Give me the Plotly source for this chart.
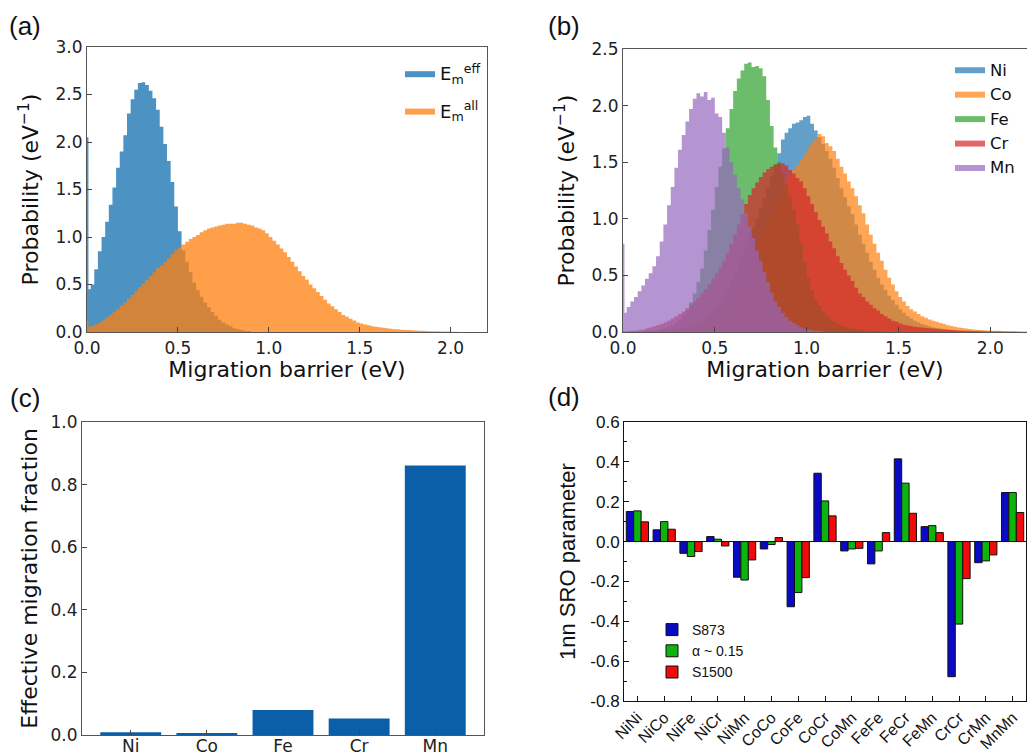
import plotly.graph_objects as go

# ---------------- data ----------------
BIN = 0.02          # histogram bin width (eV)
SPIKE_W = 0.008     # width of the first (edge) histogram bin

# (a) migration barrier histograms, bins start at 0 eV
eff_spike = 2.05
eff_vals = [0.45, 0.50, 0.66, 0.85, 1.00, 1.16, 1.34, 1.52, 1.73, 1.90,
            2.07, 2.30, 2.45, 2.55, 2.62, 2.63, 2.60, 2.54, 2.46, 2.34,
            2.16, 1.98, 1.80, 1.58, 1.32, 1.06, 0.86, 0.74, 0.63, 0.52,
            0.44, 0.37, 0.31, 0.26, 0.21, 0.17, 0.13, 0.10, 0.08, 0.06,
            0.04, 0.03, 0.02, 0.01, 0.01]
all_spike = 0.12
all_vals = [0.05, 0.06, 0.08, 0.10, 0.12, 0.15, 0.18, 0.21, 0.24,
            0.28, 0.31, 0.35, 0.39, 0.43, 0.47, 0.51, 0.55, 0.59, 0.63,
            0.67, 0.70, 0.74, 0.78, 0.82, 0.86, 0.89, 0.92, 0.95, 0.98,
            1.00, 1.02, 1.05, 1.07, 1.09, 1.10, 1.11, 1.12, 1.13, 1.14,
            1.14, 1.14, 1.15, 1.15, 1.14, 1.13, 1.12, 1.10, 1.09, 1.07,
            1.04, 1.00, 0.96, 0.92, 0.88, 0.84, 0.79, 0.74, 0.69, 0.64,
            0.59, 0.55, 0.50, 0.46, 0.42, 0.38, 0.34, 0.30, 0.27, 0.24,
            0.21, 0.18, 0.16, 0.14, 0.12, 0.10, 0.09, 0.08, 0.07, 0.06,
            0.055, 0.05, 0.045, 0.04, 0.035, 0.03, 0.028, 0.025, 0.022, 0.02,
            0.018, 0.016, 0.014, 0.012, 0.01, 0.009, 0.008, 0.007, 0.006, 0.005,
            0.004, 0.003, 0.002]

# (b) element-resolved histograms
ni_vals = [0, 0, 0, 0, 0, 0.002, 0.003, 0.004, 0.005, 0.007,
           0.009, 0.012, 0.015, 0.018, 0.02, 0.025, 0.03, 0.04, 0.05, 0.065,
           0.08, 0.10, 0.13, 0.16, 0.19, 0.23, 0.28, 0.33, 0.39, 0.46,
           0.53, 0.60, 0.68, 0.76, 0.84, 0.92, 1.00, 1.09, 1.18, 1.28,
           1.38, 1.48, 1.58, 1.70, 1.76, 1.80, 1.84, 1.85, 1.87, 1.90,
           1.91, 1.84, 1.78, 1.72, 1.66, 1.60, 1.53, 1.45, 1.36, 1.27,
           1.19, 1.11, 1.04, 0.95, 0.86, 0.78, 0.70, 0.62, 0.55, 0.48,
           0.42, 0.37, 0.32, 0.28, 0.24, 0.20, 0.17, 0.14, 0.12, 0.10,
           0.085, 0.07, 0.06, 0.05, 0.04, 0.035, 0.03, 0.025, 0.02, 0.018,
           0.015, 0.012, 0.01, 0.008, 0.006, 0.005, 0.004, 0.003]
co_vals = [0, 0, 0, 0, 0, 0, 0, 0, 0, 0.002,
           0.003, 0.004, 0.005, 0.007, 0.01, 0.013, 0.017, 0.022, 0.03, 0.04,
           0.05, 0.065, 0.08, 0.10, 0.12, 0.15, 0.18, 0.22, 0.26, 0.31,
           0.36, 0.42, 0.48, 0.55, 0.62, 0.69, 0.76, 0.84, 0.91, 0.98,
           1.05, 1.12, 1.19, 1.26, 1.32, 1.38, 1.43, 1.47, 1.52, 1.57,
           1.62, 1.67, 1.71, 1.75, 1.73, 1.67, 1.64, 1.60, 1.53, 1.46,
           1.40, 1.33, 1.27, 1.20, 1.12, 1.05, 0.95, 0.86, 0.78, 0.70,
           0.63, 0.55, 0.48, 0.42, 0.36, 0.31, 0.27, 0.23, 0.20, 0.18,
           0.16, 0.14, 0.125, 0.11, 0.10, 0.09, 0.08, 0.07, 0.06, 0.053,
           0.047, 0.04, 0.035, 0.03, 0.026, 0.022, 0.02, 0.018, 0.016, 0.014,
           0.012, 0.011, 0.01, 0.009, 0.008, 0.007, 0.006, 0.005, 0.005, 0.004]
fe_vals = [0, 0, 0, 0, 0, 0.002, 0.004, 0.006, 0.01, 0.015,
           0.022, 0.03, 0.045, 0.06, 0.08, 0.11, 0.15, 0.19, 0.26, 0.34,
           0.44, 0.56, 0.72, 0.90, 1.08, 1.28, 1.46, 1.62, 1.80, 1.97,
           2.13, 2.24, 2.31, 2.37, 2.38, 2.34, 2.35, 2.33, 2.26, 2.05,
           1.82, 1.63, 1.50, 1.40, 1.30, 1.20, 1.08, 0.95, 0.78, 0.62,
           0.48, 0.37, 0.29, 0.23, 0.18, 0.14, 0.11, 0.09, 0.07, 0.055,
           0.045, 0.035, 0.03, 0.025, 0.02, 0.015, 0.012, 0.01, 0.008, 0.006,
           0.005]
cr_vals = [0.005, 0.007, 0.01, 0.012, 0.015, 0.02, 0.03, 0.04, 0.05, 0.06,
           0.07, 0.085, 0.10, 0.12, 0.14, 0.16, 0.18, 0.21, 0.24, 0.27,
           0.30, 0.34, 0.38, 0.42, 0.47, 0.52, 0.57, 0.63, 0.70, 0.78,
           0.86, 0.95, 1.04, 1.13, 1.21, 1.27, 1.32, 1.37, 1.41, 1.44,
           1.46, 1.48, 1.49, 1.49, 1.47, 1.43, 1.40, 1.36, 1.33, 1.27,
           1.20, 1.13, 1.06, 0.99, 0.93, 0.87, 0.80, 0.74, 0.67, 0.61,
           0.55, 0.50, 0.45, 0.39, 0.34, 0.31, 0.27, 0.24, 0.21, 0.19,
           0.16, 0.14, 0.12, 0.10, 0.09, 0.075, 0.065, 0.058, 0.052, 0.047,
           0.043, 0.04, 0.036, 0.033, 0.03, 0.027, 0.024, 0.022, 0.02, 0.018,
           0.016, 0.014, 0.012, 0.011, 0.01, 0.009, 0.008, 0.007, 0.006, 0.005,
           0.005, 0.004, 0.004, 0.003, 0.003, 0.002, 0.002, 0.002, 0.001, 0.001]
mn_spike = 0.78
mn_vals = [0.17, 0.22, 0.27, 0.31, 0.36, 0.41, 0.47, 0.52, 0.58, 0.67,
           0.80, 0.95, 1.12, 1.28, 1.45, 1.61, 1.74, 1.86, 1.97, 2.06,
           2.11, 2.08, 2.12, 2.05, 2.07, 1.93, 1.90, 1.76, 1.63, 1.50,
           1.39, 1.27, 1.17, 1.05, 0.93, 0.83, 0.72, 0.63, 0.53, 0.44,
           0.35, 0.27, 0.22, 0.17, 0.13, 0.10, 0.08, 0.06, 0.04, 0.03,
           0.02, 0.015, 0.01, 0.01, 0.005]

# (c) effective migration fraction
elements = ["Ni", "Co", "Fe", "Cr", "Mn"]
eff_fraction = [0.0085, 0.004, 0.080, 0.053, 0.861]

# (d) 1nn SRO parameters
pairs = ["NiNi", "NiCo", "NiFe", "NiCr", "NiMn", "CoCo", "CoFe", "CoCr",
         "CoMn", "FeFe", "FeCr", "FeMn", "CrCr", "CrMn", "MnMn"]
sro_s873 = [0.151, 0.059, -0.059, 0.025, -0.179, -0.037, -0.327, 0.343,
            -0.047, -0.112, 0.415, 0.075, -0.678, -0.106, 0.246]
sro_alpha = [0.154, 0.100, -0.075, 0.012, -0.193, -0.015, -0.256, 0.204,
             -0.037, -0.047, 0.293, 0.080, -0.414, -0.097, 0.246]
sro_s1500 = [0.099, 0.062, -0.050, -0.022, -0.092, 0.020, -0.181, 0.129,
             -0.034, 0.045, 0.142, 0.045, -0.186, -0.067, 0.146]
sro_ticks = [0.6, 0.4, 0.2, 0.0, -0.2, -0.4, -0.6, -0.8]
sro_ticktext = ["0.6", "0.4", "0.2", "0.0", "-0.2", "-0.4", "-0.6", "-0.8"]

# ---------------- helpers ----------------
W, H = 1027, 755


def px_x(a, b):
    return [a / W, b / W]


def px_y(top, bottom):
    return [1 - bottom / H, 1 - top / H]


def step_xy(vals, spike=None):
    n = len(vals)
    if spike is None:
        xs = [BIN * i for i in range(n + 1)]
        ys = list(vals) + [vals[-1]]
    else:
        xs = [0.0, SPIKE_W] + [BIN * i for i in range(1, n + 1)]
        ys = [spike] + list(vals) + [vals[-1]]
    return xs, ys


def hist_trace(vals, spike, color, name, xa, ya, legend, group):
    xs, ys = step_xy(vals, spike)
    return go.Scatter(x=xs, y=ys, mode="lines", line=dict(width=0, shape="hv"),
                      fill="tozeroy", fillcolor=color, name=name,
                      xaxis=xa, yaxis=ya, legend=legend, legendgroup=group,
                      hoverinfo="skip")


fig = go.Figure()

# (a)
fig.add_trace(hist_trace(eff_vals, eff_spike, "rgba(31,119,180,0.8)",
                         "E<sub>m</sub><sup>eff</sup>", "x", "y", "legend", "a1"))
fig.add_trace(hist_trace(all_vals, all_spike, "rgba(255,127,14,0.75)",
                         "E<sub>m</sub><sup>all</sup>", "x", "y", "legend", "a2"))

# (b)
for vals, spike, col, nm in [
        (ni_vals, None, "rgba(31,119,180,0.7)", "Ni"),
        (co_vals, None, "rgba(255,127,14,0.7)", "Co"),
        (fe_vals, None, "rgba(44,160,44,0.7)", "Fe"),
        (cr_vals, None, "rgba(214,39,40,0.7)", "Cr"),
        (mn_vals, mn_spike, "rgba(148,103,189,0.7)", "Mn")]:
    fig.add_trace(hist_trace(vals, spike, col, nm, "x2", "y2", "legend2", "b" + nm))

# (c)
fig.add_trace(go.Bar(x=elements, y=eff_fraction, width=0.8,
                     marker=dict(color="#0b5fa9", line=dict(width=0)),
                     xaxis="x3", yaxis="y3", showlegend=False))

# (d)
for vals, col, nm in [(sro_s873, "#0a0ac6", "S873"),
                      (sro_alpha, "#0db40d", "α ~ 0.15"),
                      (sro_s1500, "#f00a0a", "S1500")]:
    fig.add_trace(go.Bar(x=pairs, y=vals, name=nm,
                         marker=dict(color=col, line=dict(color="#111", width=1)),
                         xaxis="x4", yaxis="y4", legend="legend3"))

# ---------------- layout ----------------
mpl_font = "DejaVu Sans"
arial = "Liberation Sans, Arial"
frame = "#555555"

common_mpl = dict(showline=True, mirror=True, linecolor=frame, linewidth=1.2,
                  ticks="inside", ticklen=5, tickwidth=1, tickcolor="#444",
                  showgrid=False, zeroline=False, automargin=False,
                  tickfont=dict(family=mpl_font, size=17, color="#222"))

fig.update_layout(
    width=W, height=H, autosize=False,
    margin=dict(l=0, r=0, t=0, b=0, pad=0, autoexpand=False),
    paper_bgcolor="white", plot_bgcolor="white",
    font=dict(family=mpl_font, color="#111"),
    barmode="group", bargap=0.17, bargroupgap=0,
    xaxis=dict(domain=px_x(87, 487), range=[0, 2.2], dtick=0.5, tickformat=".1f",
               anchor="y", ticklabelstandoff=0,
               title=dict(text="Migration barrier (eV)", standoff=0,
                          font=dict(family=mpl_font, size=22)), **common_mpl),
    yaxis=dict(domain=px_y(47, 332), range=[0, 3.0], dtick=0.5, tickformat=".1f",
               anchor="x",
               title=dict(text="Probability (eV<sup>−1</sup>)", standoff=10,
                          font=dict(family=mpl_font, size=22)), **common_mpl),
    xaxis2=dict(domain=px_x(623, 1027), range=[0, 2.2], dtick=0.5, tickformat=".1f",
                anchor="y2", ticklabelstandoff=0,
                title=dict(text="Migration barrier (eV)", standoff=0,
                           font=dict(family=mpl_font, size=22)), **common_mpl),
    yaxis2=dict(domain=px_y(49, 332), range=[0, 2.5], dtick=0.5, tickformat=".1f",
                anchor="x2",
                title=dict(text="Probability (eV<sup>−1</sup>)", standoff=10,
                           font=dict(family=mpl_font, size=22)), **common_mpl),
    xaxis3=dict(domain=px_x(82, 484), range=[-0.64, 4.64], anchor="y3",
                ticklabelstandoff=-5, **common_mpl),
    yaxis3=dict(domain=px_y(422, 735), range=[0, 1.0], dtick=0.2, tickformat=".1f",
                anchor="x3",
                title=dict(text="Effective migration fraction", standoff=6,
                           font=dict(family=mpl_font, size=22)), **common_mpl),
    xaxis4=dict(domain=px_x(624, 1026), range=[-0.5, 14.5], anchor="y4",
                showline=True, mirror=True, linecolor="#111", linewidth=1,
                ticks="inside", ticklen=5, tickcolor="#111", tickangle=-45,
                showgrid=False, zeroline=False, automargin=False,
                tickfont=dict(family=arial, size=16, color="#111")),
    yaxis4=dict(domain=px_y(422, 701), range=[-0.8, 0.6], anchor="x4",
                tickvals=sro_ticks, ticktext=sro_ticktext,
                showline=True, mirror=True, linecolor="#111", linewidth=1,
                ticks="inside", ticklen=5, tickcolor="#111", automargin=False,
                minor=dict(dtick=0.1, ticks="inside", ticklen=3, tickcolor="#111"),
                showgrid=False, zeroline=True, zerolinecolor="#111", zerolinewidth=1,
                tickfont=dict(family=arial, size=17, color="#111"),
                title=dict(text="1nn SRO parameter", standoff=8,
                           font=dict(family=arial, size=22))),
    legend=dict(x=400 / W, y=1 - 55 / H, xanchor="left", yanchor="top",
                bgcolor="rgba(0,0,0,0)", font=dict(family=mpl_font, size=18),
                tracegroupgap=11),
    legend2=dict(x=950 / W, y=1 - 52 / H, xanchor="left", yanchor="top",
                 bgcolor="rgba(0,0,0,0)", font=dict(family=mpl_font, size=16.5),
                 tracegroupgap=0),
    legend3=dict(x=652 / W, y=1 - 614 / H, xanchor="left", yanchor="top",
                 bgcolor="rgba(0,0,0,0)", font=dict(family=arial, size=14)),
)

for txt, cx, cy in [("(a)", 25, 26), ("(b)", 564, 26), ("(c)", 25, 398), ("(d)", 564, 397)]:
    fig.add_annotation(text=txt, x=cx / W, y=1 - cy / H, xref="paper", yref="paper",
                       xanchor="center", yanchor="middle", showarrow=False,
                       font=dict(family=arial, size=26, color="#111"))

fig.write_html("out.html")
